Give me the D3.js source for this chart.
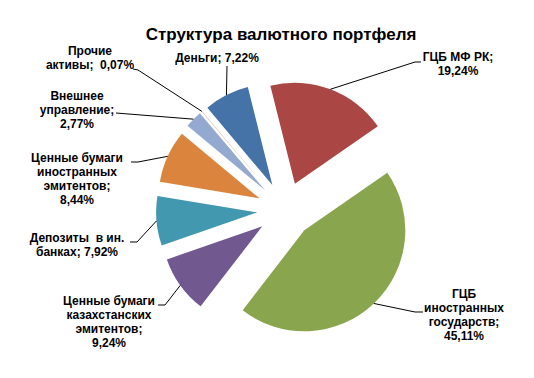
<!DOCTYPE html>
<html>
<head>
<meta charset="utf-8">
<script src="https://cdn.jsdelivr.net/npm/d3@7"></script>
<style>
html,body{margin:0;padding:0;background:#fff;}
svg{display:block;}
text{font-family:"Liberation Sans",Arial,sans-serif;white-space:pre;}
</style>
</head>
<body>
<svg id="chart" width="534" height="378"></svg>
<script>
// ---- data ----
const title = "Структура валютного портфеля";
const categories = ["Деньги", "ГЦБ МФ РК", "ГЦБ иностранных государств",
  "Ценные бумаги казахстанских эмитентов", "Депозиты  в ин. банках",
  "Ценные бумаги иностранных эмитентов", "Внешнее управление", "Прочие активы"];
const values = [7.22, 19.24, 45.11, 9.24, 7.92, 8.44, 2.77, 0.07];
// label lines; {v} is replaced by the formatted value
const labelLines = [
  ["Деньги; {v}"],
  ["ГЦБ МФ РК;", "{v}"],
  ["ГЦБ", "иностранных", "государств;", "{v}"],
  ["Ценные бумаги", "казахстанских", "эмитентов;", "{v}"],
  ["Депозиты  в ин.", "банках; {v}"],
  ["Ценные бумаги", "иностранных", "эмитентов;", "{v}"],
  ["Внешнее", "управление;", "{v}"],
  ["Прочие", "активы;  {v}"]
];
const colors = ["#4572A7", "#AA4643", "#89A54E", "#71588F", "#4198AF", "#DB843D", "#93A9CF", "#D19392"];

// ---- layout ----
const cx = 285, cy = 210, R = 101, explode = 28;
const startDeg = -40;
// label layout: text centre x, first line centre y, elbow point, line end near text
const labelLayout = [
  {x: 217, y: 58, elbow: [227, 66], end: [227, 66]},
  {x: 458, y: 57, elbow: [415, 62], end: [421, 62]},
  {x: 464, y: 294, elbow: [415, 312], end: [423, 312]},
  {x: 109, y: 301, elbow: [165, 305], end: [158, 305]},
  {x: 77, y: 238, elbow: [137, 242], end: [130, 242]},
  {x: 77, y: 158, elbow: [138, 162], end: [131, 162]},
  {x: 77, y: 96, elbow: [116, 113], end: [116, 113]},
  {x: 90, y: 51, elbow: [138, 70], end: [133, 69]}
];

const fmt = v => v.toFixed(2).replace(".", ",") + "%";
const svg = d3.select("#chart");

svg.append("text")
  .attr("x", 281).attr("y", 34).attr("dy", "0.35em")
  .attr("text-anchor", "middle")
  .attr("font-size", 17).attr("font-weight", "bold").attr("fill", "#000")
  .text(title);

const s0 = startDeg * Math.PI / 180;
const pie = d3.pie().sort(null).startAngle(s0).endAngle(s0 + 2 * Math.PI);
const arcs = pie(values);
const arc = d3.arc().innerRadius(0).outerRadius(R);
const dir = a => [Math.sin(a), -Math.cos(a)];

const g = svg.append("g").attr("transform", `translate(${cx},${cy})`);
g.selectAll("path.slice").data(arcs).enter().append("path")
  .attr("class", "slice")
  .attr("transform", d => {
    const m = (d.startAngle + d.endAngle) / 2, u = dir(m);
    return `translate(${u[0] * explode},${u[1] * explode})`;
  })
  .attr("d", arc)
  .attr("fill", (d, i) => colors[i]);

// leader lines
arcs.forEach((d, i) => {
  const m = (d.startAngle + d.endAngle) / 2, u = dir(m);
  const px = cx + u[0] * (explode + R), py = cy + u[1] * (explode + R);
  const L = labelLayout[i];
  svg.append("path")
    .attr("d", `M${px},${py}L${L.elbow[0]},${L.elbow[1]}L${L.end[0]},${L.end[1]}`)
    .attr("fill", "none").attr("stroke", "#000").attr("stroke-width", 1);
});

// labels
arcs.forEach((d, i) => {
  const L = labelLayout[i];
  const t = svg.append("text")
    .attr("text-anchor", "middle")
    .attr("font-size", 12).attr("font-weight", "bold").attr("fill", "#000");
  labelLines[i].forEach((ln, k) => {
    t.append("tspan").attr("x", L.x).attr("y", L.y + k * 14).attr("dy", "0.35em")
      .text(ln.replace("{v}", fmt(values[i])));
  });
});
</script>
</body>
</html>
